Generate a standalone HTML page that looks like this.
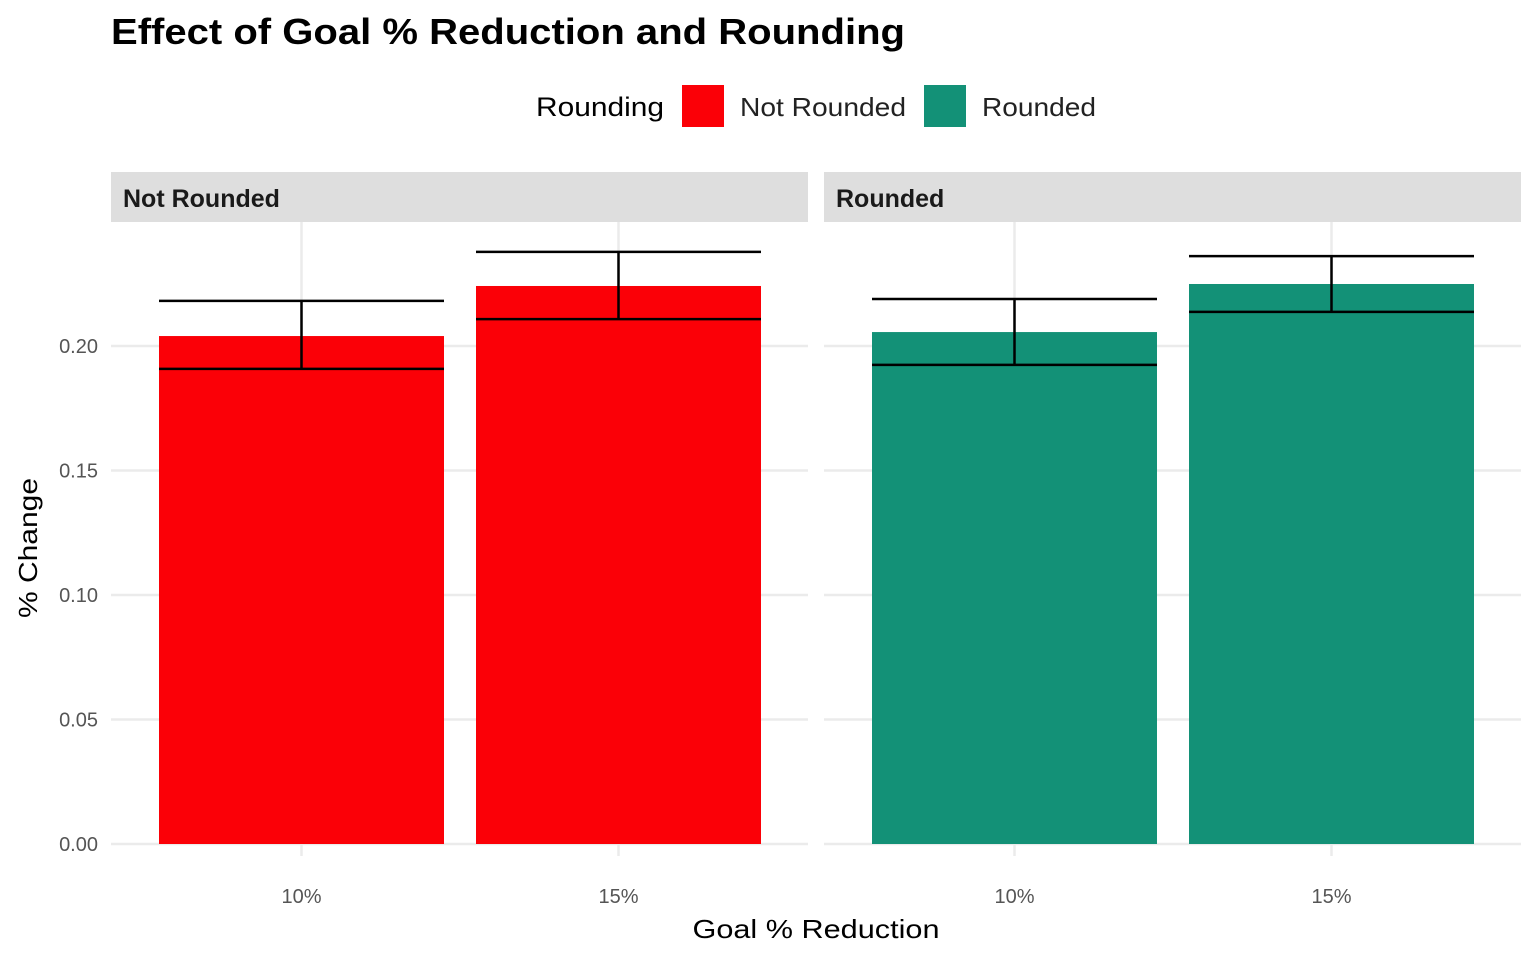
<!DOCTYPE html>
<html><head><meta charset="utf-8"><style>
body{margin:0;background:#fff;}
svg{display:block;font-family:"Liberation Sans",sans-serif;}
</style></head><body>
<svg id="chart" width="1536" height="960">
<text x="111" y="44" font-size="36" font-weight="bold" fill="#000" textLength="794" lengthAdjust="spacingAndGlyphs">Effect of Goal % Reduction and Rounding</text>
<g>
<text x="536" y="116" font-size="27" fill="#000" textLength="128" lengthAdjust="spacingAndGlyphs">Rounding</text>
<rect x="682" y="85" width="42" height="42" fill="#FB0007"/>
<text x="740" y="116" font-size="26" fill="#222" textLength="166" lengthAdjust="spacingAndGlyphs">Not Rounded</text>
<rect x="924" y="85" width="42" height="42" fill="#139177"/>
<text x="982" y="116" font-size="26" fill="#222" textLength="114" lengthAdjust="spacingAndGlyphs">Rounded</text>
</g>
<text transform="translate(37,548) rotate(-90)" text-anchor="middle" font-size="26" fill="#000" textLength="140" lengthAdjust="spacingAndGlyphs">% Change</text>
<text x="816" y="938" text-anchor="middle" font-size="26" fill="#000" textLength="247" lengthAdjust="spacingAndGlyphs">Goal % Reduction</text>
<g id="plot"></g>
</svg>
<script>
const panels = ["Not Rounded", "Rounded"];
const categories = ["10%", "15%"];
const notRoundedValues = [0.2040, 0.2241];
const notRoundedLow = [0.1908, 0.2108];
const notRoundedHigh = [0.2181, 0.2378];
const roundedValues = [0.2056, 0.2249];
const roundedLow = [0.1924, 0.2137];
const roundedHigh = [0.2189, 0.2361];
const yTicks = [0, 0.05, 0.10, 0.15, 0.20];
const yTickLabels = ["0.00", "0.05", "0.10", "0.15", "0.20"];

const NS = "http://www.w3.org/2000/svg";
const g = document.getElementById("plot");
function mk(tag, attrs, parent) {
  const e = document.createElementNS(NS, tag);
  for (const k in attrs) e.setAttribute(k, attrs[k]);
  (parent || g).appendChild(e);
  return e;
}
const y = v => 844 - v * 2490;
const panelX = [111, 824], panelW = 697;
const x = (p, i) => panelX[p] + 190.5 + i * 317;
const barW = 285;
const colors = ["#FB0007", "#139177"];
const vals = [notRoundedValues, roundedValues];
const lows = [notRoundedLow, roundedLow];
const highs = [notRoundedHigh, roundedHigh];

yTicks.forEach((t, k) => {
  const lb = mk("text", {x: 98, y: y(t) + 7, "text-anchor": "end", "font-size": 20, fill: "#555"});
  lb.textContent = yTickLabels[k];
  
  
});

panels.forEach((name, p) => {
  const strip = mk("rect", {x: panelX[p], y: 172, width: panelW, height: 50, fill: "#DEDEDE"});
  
  
  const st = mk("text", {x: panelX[p] + 12, y: 207, "font-size": 25, "font-weight": "bold", fill: "#1a1a1a"});
  st.textContent = name;
  
  
  yTicks.forEach(t => {
    const l = mk("line", {x1: panelX[p], x2: panelX[p] + panelW, y1: y(t), y2: y(t), stroke: "#EBEBEB", "stroke-width": 2.5});
    
    
  });
  categories.forEach((c, i) => {
    const vl = mk("line", {x1: x(p, i), x2: x(p, i), y1: 222, y2: 844, stroke: "#EBEBEB", "stroke-width": 2.5});
    
    
  });
  categories.forEach((c, i) => {
    const b = mk("rect", {x: x(p, i) - barW / 2, y: y(vals[p][i]), width: barW, height: y(0) - y(vals[p][i]), fill: colors[p]});
    
    
    const eg = mk("g", {stroke: "#000", "stroke-width": 2.5});
    
    
    mk("line", {x1: x(p, i) - barW / 2, x2: x(p, i) + barW / 2, y1: y(highs[p][i]), y2: y(highs[p][i])}, eg);
    mk("line", {x1: x(p, i) - barW / 2, x2: x(p, i) + barW / 2, y1: y(lows[p][i]), y2: y(lows[p][i])}, eg);
    mk("line", {x1: x(p, i), x2: x(p, i), y1: y(highs[p][i]), y2: y(lows[p][i])}, eg);
    const tk = mk("line", {x1: x(p, i), x2: x(p, i), y1: 844, y2: 856, stroke: "#EBEBEB", "stroke-width": 2.5});
    
    
    const xl = mk("text", {x: x(p, i), y: 903, "text-anchor": "middle", "font-size": 20, fill: "#555"});
    xl.textContent = c;
    
    
  });
});
</script>
</body></html>
